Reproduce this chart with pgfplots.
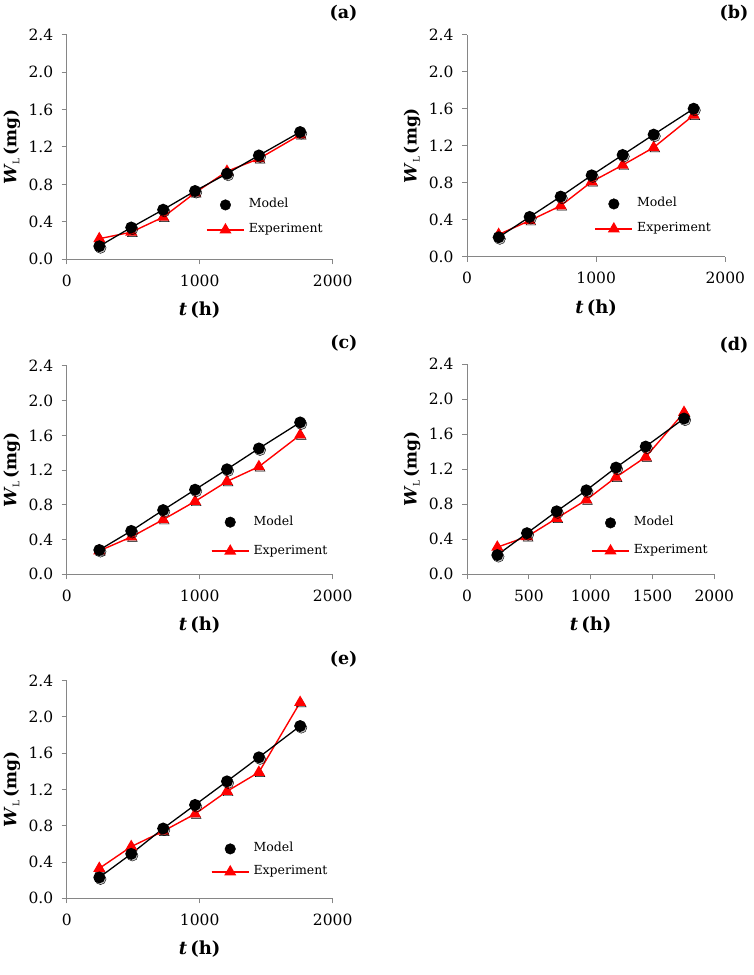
\documentclass[border=0pt]{standalone}
\usepackage{pgfplots}
\pgfplotsset{compat=1.18}
\usepackage{fontspec}
\setmainfont{DejaVu Serif}
\definecolor{axgray}{RGB}{134,134,134}
\definecolor{expred}{RGB}{255,0,0}
\newcommand{\WLlab}{\textbf{\textit{W}}\raisebox{-0.35ex}{\fontsize{9}{9}\selectfont L}\,\textbf{(mg)}}
\newcommand{\THlab}{\textbf{\textit{t}}\,\textbf{(h)}}
\pgfplotsset{
  panel/.style={
    scale only axis, anchor=south west,
    xmin=0, xmax=2000, ymin=0, ymax=2.4,
    axis x line=bottom, axis y line=left,
    axis line style={-, draw=axgray, line width=1pt},
    ytick={0,0.4,0.8,1.2,1.6,2.0,2.4},
    yticklabel style={xshift=-5pt, /pgf/number format/.cd, fixed, fixed zerofill, precision=1},
    xticklabel style={yshift=-7pt, /pgf/number format/.cd, set thousands separator={}},
    /pgf/number format/assume math mode=true,
    tick style={draw=axgray, line width=1pt},
    major tick length=5pt, tick align=outside,
    ticklabel style={font=\fontsize{15.5}{15.5}\selectfont},
    xlabel={\THlab}, ylabel={\WLlab},
    every axis x label/.style={at={(axis description cs:0.5,0)}, anchor=center, yshift=-51pt, font=\fontsize{18}{18}\selectfont},
    every axis y label/.style={at={(axis description cs:0,0.5)}, anchor=center, xshift=-55pt, rotate=90, font=\fontsize{17}{17}\selectfont},
    legend style={draw=none, fill=none, anchor=north west, inner sep=0pt,
      font=\fontsize{12.5}{12.5}\selectfont, row sep=13pt,
      nodes={inner sep=0pt, text height=9pt, text depth=3pt},
      column sep=4pt},
    legend cell align=left,
  },
  modelst/.style={black, line width=1.3pt, mark=*, mark size=5.3pt, mark options={solid, fill=black}},
  expst/.style={expred, line width=1.4pt, mark=triangle*, mark size=5.6pt, mark options={solid, fill=expred}},
  shadowst/.style={only marks, forget plot, mark size=5.6pt, mark options={draw=none, fill=black, fill opacity=0.22, xshift=1.2pt, yshift=-1.6pt}},
}
\newcommand{\legimgs}{%
  \addlegendimage{only marks, black, mark=*, mark size=5.3pt, mark options={fill=black},
    legend image code/.code={\draw plot coordinates {(18.5pt,0pt)};}}
  \addlegendentry{Model}
  \addlegendimage{expst,
    legend image code/.code={%
      \draw[expred, line width=1.6pt] (0pt,0pt) -- (37pt,0pt);
      \draw[mark repeat=2,mark phase=2] plot coordinates {(0pt,0pt) (18.5pt,0pt) (37pt,0pt)};}}
  \addlegendentry{Experiment}
}
\newcommand{\lab}[2]{\node[anchor=east, font=\bfseries\fontsize{17.5}{17.5}\selectfont] at (#1) {#2};}
\begin{document}
\begin{tikzpicture}[x=1pt,y=1pt]
\useasboundingbox (0,0) rectangle (754,975);

% (a)
\begin{axis}[panel, at={(66.7pt,715.7pt)}, width=266pt, height=224.6pt,
  xtick={0,1000,2000}, legend style={at={(axis cs:1047,0.647)}}]
\legimgs
\addplot[shadowst, mark=triangle*] coordinates {(245,0.22) (485,0.29) (725,0.45) (965,0.71) (1205,0.94) (1445,1.075) (1755,1.33)};
\addplot[expst, forget plot] coordinates {(245,0.22) (485,0.29) (725,0.45) (965,0.71) (1205,0.94) (1445,1.075) (1755,1.33)};
\addplot[shadowst, mark=*] coordinates {(245,0.14) (485,0.34) (725,0.53) (965,0.73) (1205,0.915) (1445,1.11) (1755,1.36)};
\addplot[modelst, forget plot] coordinates {(245,0.14) (485,0.34) (725,0.53) (965,0.73) (1205,0.915) (1445,1.11) (1755,1.36)};
\end{axis}
\lab{361,962}{(a)}

% (b)
\begin{axis}[panel, at={(467pt,718.3pt)}, width=258.3pt, height=222pt,
  xtick={0,1000,2000}, legend style={at={(axis cs:986,0.637)}}]
\legimgs
\addplot[shadowst, mark=triangle*] coordinates {(245,0.24) (485,0.39) (725,0.55) (965,0.81) (1205,0.99) (1445,1.18) (1755,1.53)};
\addplot[expst, forget plot] coordinates {(245,0.24) (485,0.39) (725,0.55) (965,0.81) (1205,0.99) (1445,1.18) (1755,1.53)};
\addplot[shadowst, mark=*] coordinates {(245,0.21) (485,0.43) (725,0.65) (965,0.88) (1205,1.10) (1445,1.32) (1755,1.60)};
\addplot[modelst, forget plot] coordinates {(245,0.21) (485,0.43) (725,0.65) (965,0.88) (1205,1.10) (1445,1.32) (1755,1.60)};
\end{axis}
\lab{752,962}{(b)}

% (c)
\begin{axis}[panel, at={(66.7pt,400.7pt)}, width=266pt, height=208.3pt,
  xtick={0,1000,2000}, legend style={at={(axis cs:1083,0.672)}, row sep=17pt}]
\legimgs
\addplot[shadowst, mark=triangle*] coordinates {(245,0.27) (485,0.43) (725,0.63) (965,0.84) (1205,1.07) (1445,1.24) (1755,1.605)};
\addplot[expst, forget plot] coordinates {(245,0.27) (485,0.43) (725,0.63) (965,0.84) (1205,1.07) (1445,1.24) (1755,1.605)};
\addplot[shadowst, mark=*] coordinates {(245,0.28) (485,0.50) (725,0.74) (965,0.975) (1205,1.21) (1445,1.45) (1755,1.75)};
\addplot[modelst, forget plot] coordinates {(245,0.28) (485,0.50) (725,0.74) (965,0.975) (1205,1.21) (1445,1.45) (1755,1.75)};
\end{axis}
\lab{361,632}{(c)}

% (d)
\begin{axis}[panel, at={(467pt,400.7pt)}, width=247.3pt, height=210pt,
  xtick={0,500,1000,1500,2000}, legend style={at={(axis cs:1003,0.658)}, row sep=16pt}]
\legimgs
\addplot[shadowst, mark=triangle*] coordinates {(245,0.31) (485,0.43) (725,0.64) (965,0.85) (1205,1.11) (1445,1.34) (1755,1.85)};
\addplot[expst, forget plot] coordinates {(245,0.31) (485,0.43) (725,0.64) (965,0.85) (1205,1.11) (1445,1.34) (1755,1.85)};
\addplot[shadowst, mark=*] coordinates {(245,0.22) (485,0.47) (725,0.72) (965,0.96) (1205,1.22) (1445,1.46) (1755,1.78)};
\addplot[modelst, forget plot] coordinates {(245,0.22) (485,0.47) (725,0.72) (965,0.96) (1205,1.22) (1445,1.46) (1755,1.78)};
\end{axis}
\lab{752,630}{(d)}

% (e)
\begin{axis}[panel, at={(66.7pt,76.7pt)}, width=266pt, height=217.6pt,
  xtick={0,1000,2000}, legend style={at={(axis cs:1083,0.613)}, row sep=11pt}]
\legimgs
\addplot[shadowst, mark=triangle*] coordinates {(245,0.33) (485,0.57) (725,0.74) (965,0.93) (1205,1.18) (1445,1.39) (1755,2.16)};
\addplot[expst, forget plot] coordinates {(245,0.33) (485,0.57) (725,0.74) (965,0.93) (1205,1.18) (1445,1.39) (1755,2.16)};
\addplot[shadowst, mark=*] coordinates {(245,0.23) (485,0.49) (725,0.77) (965,1.03) (1205,1.29) (1445,1.555) (1755,1.90)};
\addplot[modelst, forget plot] coordinates {(245,0.23) (485,0.49) (725,0.77) (965,1.03) (1205,1.29) (1445,1.555) (1755,1.90)};
\end{axis}
\lab{361,316}{(e)}
\end{tikzpicture}
\end{document}
